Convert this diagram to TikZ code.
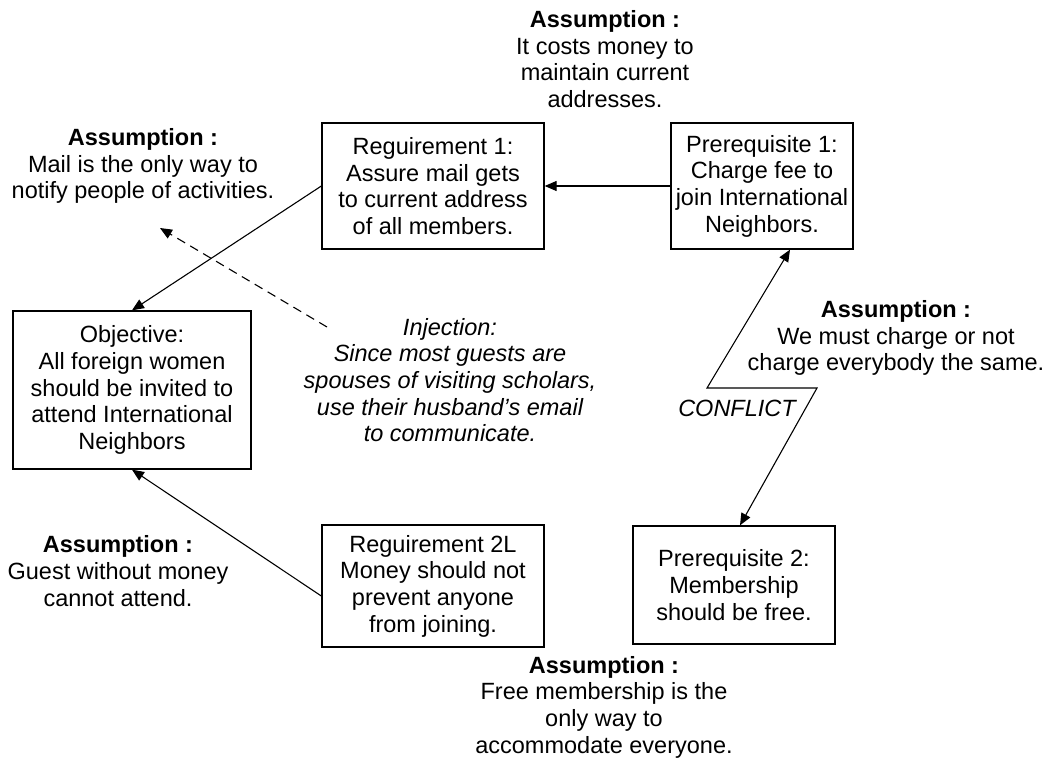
\documentclass[tikz,border=0pt]{standalone}
\usepackage{fontspec}
\setmainfont{Liberation Sans}
\usetikzlibrary{arrows.meta,calc}
\begin{document}
\begin{tikzpicture}[x=1pt,y=-1pt,
  every node/.style={font=\fontsize{23.5pt}{26.7pt}\selectfont, align=center, inner sep=0pt},
  box/.style={draw, line width=1.3pt, minimum width=#1},
  injtext/.style={font=\fontsize{23.5pt}{26.7pt}\selectfont\itshape},
  link/.style={line width=1.1pt, -{Triangle[length=12pt,width=10pt]}},
  hint/.style={link, dashed, dash pattern=on 9pt off 6pt}]
\useasboundingbox (0,0) rectangle (1058,776);

% boxes of the cloud
\node[box=222pt, minimum height=126pt] (req1) at (433,186)
  {Reguirement 1:\\Assure mail gets\\to current address\\of all members.};
\node[box=182pt, minimum height=126pt] (pre1) at (762,186)
  {Prerequisite 1:\\Charge fee to\\join International\\Neighbors.};
\node[box=238pt, minimum height=158pt] (obj) at (132,390)
  {Objective:\\All foreign women\\should be invited to\\attend International\\Neighbors};
\node[box=222pt, minimum height=122pt] (req2) at (433,586)
  {Reguirement 2L\\Money should not\\prevent anyone\\from joining.};
\node[box=202pt, minimum height=118pt] (pre2) at (734,585)
  {Prerequisite 2:\\Membership\\should be free.};

% assumptions
\node (asTop) at (605,59)
  {\textbf{Assumption :}\\It costs money to\\maintain current\\addresses.};
\node (asLeft) at (143,166)
  {\textbf{Assumption :}\\Mail is the only way to\\notify people of activities.};
\node (asRight) at (896,338)
  {\textbf{Assumption :}\\We must charge or not\\charge everybody the same.};
\node (asLow) at (118,571)
  {\textbf{Assumption :}\\Guest without money\\cannot attend.};
\node (asBottom) at (604,707)
  {\textbf{Assumption :}\\Free membership is the\\only way to\\accommodate everyone.};

% injection
\node[injtext] (inj) at (450,380)
  {Injection:\\Since most guests are\\spouses of visiting scholars,\\use their husband’s email\\to communicate.};

% connectors
\draw[link] (pre1.west) -- (req1.east);
\draw[link] (req1.west) -- (obj.north);
\draw[link] ($(req2.west)+(0,10)$) -- (obj.south);

\coordinate (injEnd) at (327,327);
\coordinate (injTip) at (160,228);
\draw[hint] (injEnd) -- (injTip);

% conflict bolt
\coordinate (boltA) at (707,388);
\coordinate (boltB) at (817,388);
\draw[line width=1.1pt, {Triangle[length=12pt,width=10pt]}-{Triangle[length=12pt,width=10pt]}]
  ($(pre1.south)+(28,0)$) -- (boltA) -- (boltB) -- ($(pre2.north)+(6,0)$);
\node[injtext] (conflict) at (737,408) {CONFLICT};
\end{tikzpicture}
\end{document}
